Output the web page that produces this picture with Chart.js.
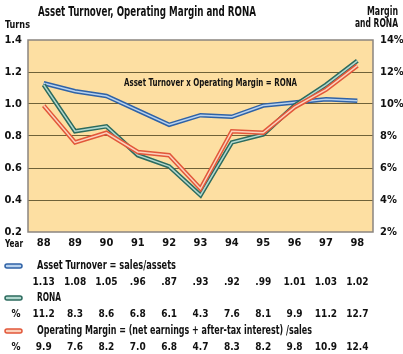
<!DOCTYPE html>
<html>
<head>
<meta charset="utf-8">
<script src="https://cdn.jsdelivr.net/npm/chart.js@4"></script>
<style>
  html, body { margin: 0; padding: 0; background: #fff; }
  #wrap { width: 403px; height: 354px; position: relative; }
</style>
</head>
<body>
<div id="wrap"><canvas id="chart" width="403" height="354"></canvas></div>
<script>
const years = ['88', '89', '90', '91', '92', '93', '94', '95', '96', '97', '98'];
const assetTurnover = [1.13, 1.08, 1.05, 0.96, 0.87, 0.93, 0.92, 0.99, 1.01, 1.03, 1.02];
const assetLabels = ['1.13', '1.08', '1.05', '.96', '.87', '.93', '.92', '.99', '1.01', '1.03', '1.02'];
const rona = [11.2, 8.3, 8.6, 6.8, 6.1, 4.3, 7.6, 8.1, 9.9, 11.2, 12.7];
const opMargin = [9.9, 7.6, 8.2, 7.0, 6.8, 4.7, 8.3, 8.2, 9.8, 10.9, 12.4];

const FONT = "'Liberation Sans Narrow', 'DejaVu Sans Condensed', 'Arial Narrow', sans-serif";
const COLORS = {
  blue: { dark: '#2f62a6', light: '#b8d2ee' },
  green: { dark: '#2c6b5e', light: '#b2d8cf' },
  red: { dark: '#e2573a', light: '#fbd2bc' },
};

function lineSet(data, axis, color, order, width) {
  return {
    data, yAxisID: axis, borderColor: color, borderWidth: width,
    pointRadius: 0, tension: 0, borderJoinStyle: 'miter', order,
  };
}

function text(ctx, str, x, y, size, align, maxW) {
  ctx.font = `bold ${size}px ${FONT}`;
  ctx.textAlign = align;
  ctx.textBaseline = 'middle';
  ctx.fillStyle = '#111';
  if (maxW) ctx.fillText(str, x, y, maxW); else ctx.fillText(str, x, y);
}

function legendIcon(ctx, y, color) {
  ctx.save();
  ctx.beginPath();
  ctx.roundRect(5, y - 2, 17, 4, 2);
  ctx.fillStyle = color.light;
  ctx.fill();
  ctx.lineWidth = 1.5;
  ctx.strokeStyle = color.dark;
  ctx.stroke();
  ctx.restore();
}

const decor = {
  id: 'decor',
  beforeDraw(chart) {
    const { ctx, chartArea: a } = chart;
    ctx.save();
    ctx.fillStyle = '#fddfa2';
    ctx.fillRect(a.left, a.top, a.right - a.left, a.bottom - a.top);
    ctx.restore();
  },
  afterDatasetsDraw(chart) {
    const { ctx, chartArea: a } = chart;
    ctx.save();
    ctx.strokeStyle = '#8a8580';
    ctx.lineWidth = 1.5;
    ctx.strokeRect(a.left, a.top, a.right - a.left, a.bottom - a.top);
    ctx.restore();
  },
  afterDraw(chart) {
    const { ctx } = chart;
    const x = chart.scales.x;
    ctx.save();
    text(ctx, 'Asset Turnover, Operating Margin and RONA', 38, 12, 14, 'left', 218);
    text(ctx, 'Turns', 5, 25, 11, 'left', 25);
    text(ctx, 'Margin', 398, 12, 12, 'right', 31);
    text(ctx, 'and RONA', 398, 24, 12, 'right', 43);
    text(ctx, 'Asset Turnover x Operating Margin = RONA', 124, 83, 11, 'left', 173);
    text(ctx, 'Year', 5, 244, 10, 'left', 18);

    legendIcon(ctx, 266, COLORS.blue);
    text(ctx, 'Asset Turnover = sales/assets', 37, 266, 12, 'left', 139);
    assetLabels.forEach((s, i) => text(ctx, s, x.getPixelForValue(i), 282, 10, 'center'));

    legendIcon(ctx, 298, COLORS.green);
    text(ctx, 'RONA', 37, 298, 12, 'left', 24);
    text(ctx, '%', 16, 314, 10, 'center');
    rona.forEach((v, i) => text(ctx, v.toFixed(1), x.getPixelForValue(i), 314, 10, 'center'));

    legendIcon(ctx, 331, COLORS.red);
    text(ctx, 'Operating Margin = (net earnings + after-tax interest) /sales', 37, 331, 12, 'left', 275);
    text(ctx, '%', 16, 347, 10, 'center');
    opMargin.forEach((v, i) => text(ctx, v.toFixed(1), x.getPixelForValue(i), 347, 10, 'center'));
    ctx.restore();
  }
};

new Chart(document.getElementById('chart'), {
  type: 'line',
  data: {
    labels: years,
    datasets: [
      lineSet(assetTurnover, 'y', COLORS.blue.dark, 6, 4.5),
      lineSet(assetTurnover, 'y', COLORS.blue.light, 5, 1.5),
      lineSet(rona, 'y1', COLORS.green.dark, 4, 4.5),
      lineSet(rona, 'y1', COLORS.green.light, 3, 1.5),
      lineSet(opMargin, 'y1', COLORS.red.dark, 2, 4.5),
      lineSet(opMargin, 'y1', COLORS.red.light, 1, 1.5),
    ],
  },
  options: {
    responsive: false,
    animation: false,
    layout: { padding: { top: 40, bottom: 102, left: 0, right: 0 } },
    plugins: { legend: { display: false }, tooltip: { enabled: false } },
    scales: {
      x: {
        offset: true,
        grid: { display: false, drawTicks: false, tickLength: 0 },
        border: { display: false },
        ticks: { color: '#111', font: { family: FONT, weight: 'bold', size: 11 }, padding: 5, maxRotation: 0 },
        afterFit: s => { s.height = 20; },
      },
      y: {
        position: 'left',
        min: 0.2, max: 1.4,
        border: { display: false },
        grid: { color: c => (c.tick.value > 0.25 && c.tick.value < 1.35) ? '#6f6238' : 'rgba(0,0,0,0)', lineWidth: 1, drawTicks: false },
        ticks: { stepSize: 0.2, padding: 6, color: '#111', font: { family: FONT, weight: 'bold', size: 11 }, callback: v => v.toFixed(1) },
        afterFit: s => { s.width = 28; },
      },
      y1: {
        position: 'right',
        min: 2, max: 14,
        border: { display: false },
        grid: { display: false, drawTicks: false },
        ticks: { stepSize: 2, padding: 7, color: '#111', font: { family: FONT, weight: 'bold', size: 11 }, callback: v => v + '%' },
        afterFit: s => { s.width = 30; },
      },
    },
  },
  plugins: [decor],
});
</script>
</body>
</html>
